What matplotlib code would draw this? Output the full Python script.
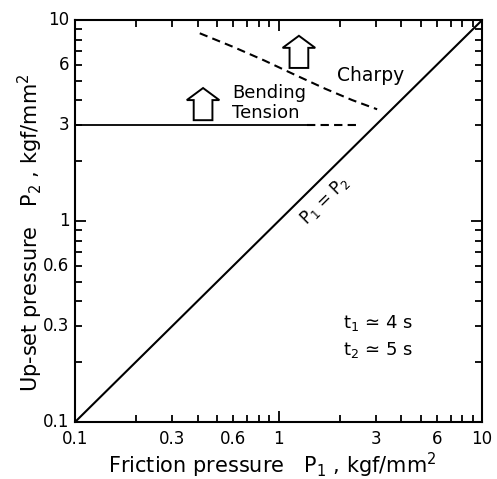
import numpy as np
import matplotlib
matplotlib.use("Agg")
import matplotlib.pyplot as plt
import matplotlib.patches as mpatches
from matplotlib.ticker import LogLocator, NullFormatter

# --------------------
# Data
# --------------------
tick_values = [0.1, 0.3, 0.6, 1, 3, 6, 10]
tick_labels = ["0.1", "0.3", "0.6", "1", "3", "6", "10"]

# P1 = P2 diagonal
diag_p1 = [0.1, 10]
diag_p2 = [0.1, 10]

# Bending / tension limit (solid, then dashed extension)
bend_solid_p1 = [0.1, 1.38]
bend_solid_p2 = [3.0, 3.0]
bend_dash_p1 = [1.38, 2.45]
bend_dash_p2 = [3.0, 3.0]

# Charpy limit (dashed curve)
charpy_p1 = [0.41, 0.60, 0.85, 1.20, 1.70, 2.30, 3.05]
charpy_p2 = [8.6, 7.35, 6.3, 5.35, 4.55, 4.0, 3.6]

plt.rcParams['font.family'] = ['DejaVu Sans']

fig = plt.figure(figsize=(4.97, 4.79), dpi=100)
ax = fig.add_axes([0.151, 0.119, 0.819, 0.839])

ax.set_xscale("log")
ax.set_yscale("log")
ax.set_xlim(0.1, 10)
ax.set_ylim(0.1, 10)

ax.plot(diag_p1, diag_p2, color="black", lw=1.5)
ax.plot(bend_solid_p1, bend_solid_p2, color="black", lw=1.3)
ax.plot(bend_dash_p1, bend_dash_p2, color="black", lw=1.5, dashes=(4, 2.5))
ax.plot(charpy_p1, charpy_p2, color="black", lw=1.5, dashes=(4, 2.5))

# ticks: decades major, 2..9 minor, all inward on four sides
for axis in (ax.xaxis, ax.yaxis):
    axis.set_major_locator(LogLocator(base=10, numticks=5))
    axis.set_minor_locator(LogLocator(base=10, subs=np.arange(2, 10), numticks=10))
    axis.set_major_formatter(NullFormatter())
    axis.set_minor_formatter(NullFormatter())
ax.tick_params(which="major", direction="in", length=8, width=1.3,
               top=True, right=True)
ax.tick_params(which="minor", direction="in", length=5, width=1.3,
               top=True, right=True)
for s in ax.spines.values():
    s.set_linewidth(1.5)

# labels at chosen values
for v, lab in zip(tick_values, tick_labels):
    ax.annotate(lab, xy=(v, 0), xycoords=("data", "axes fraction"),
                xytext=(0, -6), textcoords="offset points",
                ha="center", va="top", fontsize=12)
    ax.annotate(lab, xy=(0, v), xycoords=("axes fraction", "data"),
                xytext=(-4, 0), textcoords="offset points",
                ha="right", va="center", fontsize=12)

ax.set_xlabel("Friction pressure   P$_1$ , kgf/mm$^2$", fontsize=15, va="center")
ax.xaxis.set_label_coords(0.485, -0.107)
ax.set_ylabel("Up-set pressure   P$_2$ , kgf/mm$^2$", fontsize=15, va="center")
ax.yaxis.set_label_coords(-0.11, 0.47)

# annotations
ax.text(1.94, 5.3, "Charpy", fontsize=13.5, ha="left", va="center")
ax.text(0.59, 4.33, "Bending", fontsize=13, ha="left", va="center")
ax.text(0.59, 3.44, "Tension", fontsize=13, ha="left", va="center")
ax.text(1.69, 1.27, "P$_1$ = P$_2$", fontsize=12, ha="center", va="center",
        rotation=44.6)
ax.text(2.07, 0.311, "t$_1$ ≃ 4 s", fontsize=13, ha="left", va="center")
ax.text(2.07, 0.228, "t$_2$ ≃ 5 s", fontsize=13, ha="left", va="center")

# hollow up arrows (axes fraction)
for cx, by in [(0.3145, 0.751), (0.55, 0.881)]:
    arr = mpatches.FancyArrow(cx, by, 0, 0.08, width=0.046, head_width=0.08,
                              head_length=0.03, length_includes_head=True,
                              fill=False, ec="black", lw=1.4,
                              transform=ax.transAxes)
    ax.add_patch(arr)

fig.savefig("out.png", dpi=100)
